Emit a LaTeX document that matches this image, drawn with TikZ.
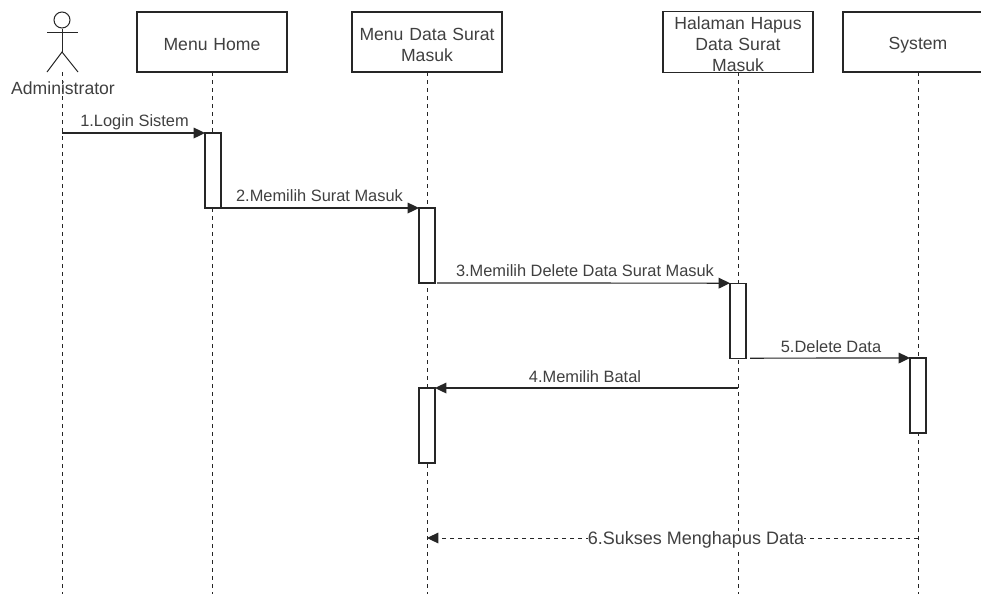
\documentclass[tikz,border=0pt]{standalone}
\usepackage{fontspec}
\setmainfont{Liberation Sans}
\usepackage{xcolor}
\usetikzlibrary{arrows.meta, positioning, calc}
\definecolor{primaryColor}{RGB}{38, 38, 38}
\definecolor{labelColor}{RGB}{64, 64, 64}

\begin{document}
\begin{tikzpicture}[
    x=0.75pt, y=-0.75pt,
    node distance=48.75pt,
    head/.style={rectangle, draw=primaryColor, fill=white, line width=0.9pt, outer sep=0pt, text=labelColor, text width=110pt, text centered, inner sep=0pt, minimum width=112.5pt, minimum height=45pt, font=\fontsize{13.2pt}{15.8pt}\selectfont, execute at begin node={\rule{0pt}{13.5pt}}},
    activation/.style={rectangle, draw=primaryColor, fill=white, line width=0.9pt, outer sep=0pt, inner sep=0pt, minimum width=12pt, minimum height=56.25pt},
    limb/.style={draw=primaryColor, line width=0.75pt},
    lifeline/.style={draw=primaryColor, line width=0.75pt, dash pattern=on 3.2pt off 2.8pt},
    line/.style={draw=primaryColor, -{Triangle[length=8.5pt, width=8pt]}, line width=0.9pt},
    reply/.style={draw=primaryColor, -{Triangle[length=8.5pt, width=8pt]}, line width=0.75pt, dash pattern=on 3.2pt off 2.8pt},
    msg/.style={text=labelColor, inner sep=0pt, anchor=base, font=\fontsize{12.3pt}{14.8pt}\selectfont}
]
\clip (0,0) rectangle (981,594);
\fill [white] (0,0) rectangle (981,594);

% Nodes
\node (home) [head] at (212,42) {Menu Home};
\node (inbox) [head, right=of home] {Menu Data Surat\\Masuk};
\node (erase) [head, right=120.75pt of inbox] {Halaman Hapus\\Data Surat\\Masuk};
\node (system) [head, right=22.5pt of erase] {System};

% Actor
\node (adminHead) [circle, draw=primaryColor, line width=0.75pt, inner sep=0pt, minimum size=12pt] at (62,20) {};
\coordinate (adminHip) at (62,52);
\coordinate (adminFoot) at (62,72);
\path [limb] (adminHead) -- (adminHip);
\path [limb] (47,32.5) -- (78,32.5);
\path [limb] (47,72) -- (adminHip) -- (78,72);

% Lifelines
\coordinate (adminEnd) at (62,594);
\path [lifeline] (adminFoot) -- (adminEnd);
\foreach \who in {home, inbox, erase, system} {
    \coordinate (\who End) at (\who.south |- adminEnd);
    \path [lifeline] (\who.south) -- (\who End);
}
\node (admin) [msg, font=\fontsize{13.2pt}{15.8pt}\selectfont] at (63,94) {Administrator};

% Activations
\node (actHome) [activation, below=45.75pt of home.south, xshift=0.75pt] {};
\node (actInbox) [activation, below=102pt of inbox.south] {};
\node (actErase) [activation, below=158.25pt of erase.south] {};
\node (actSystem) [activation, below=214.5pt of system.south] {};
\node (actBack) [activation, below=237pt of inbox.south] {};

% Connectors
\coordinate (admin1) at (adminEnd |- actHome.north);
\coordinate (erase4) at (eraseEnd |- actBack.north);
\coordinate (reply6) at (systemEnd |- 0,538);
\coordinate (inbox6) at (inboxEnd |- reply6);
\path [line] (admin1) -- (actHome.north west);
\path [line] (actHome.south east) -- (actInbox.north west);
\path [line] ($(actInbox.south east)+(2,0)$) -- (actErase.north west);
\path [line] ($(actErase.south east)+(4,0)$) -- (actSystem.north west);
\path [line] (erase4) -- (actBack.north east);
\path [reply] (reply6) -- (inbox6);

% Labels
\node [msg] at (134.5,126) {1.Login Sistem};
\node [msg] at (319.5,201) {2.Memilih Surat Masuk};
\node [msg] at (585,276.5) {3.Memilih Delete Data Surat Masuk};
\node [msg] at (831,352) {5.Delete Data};
\node [msg] at (585,382) {4.Memilih Batal};
\node [msg, fill=white, font=\fontsize{13.5pt}{16pt}\selectfont] at (696,544) {6.Sukses Menghapus Data};

\end{tikzpicture}
\end{document}
